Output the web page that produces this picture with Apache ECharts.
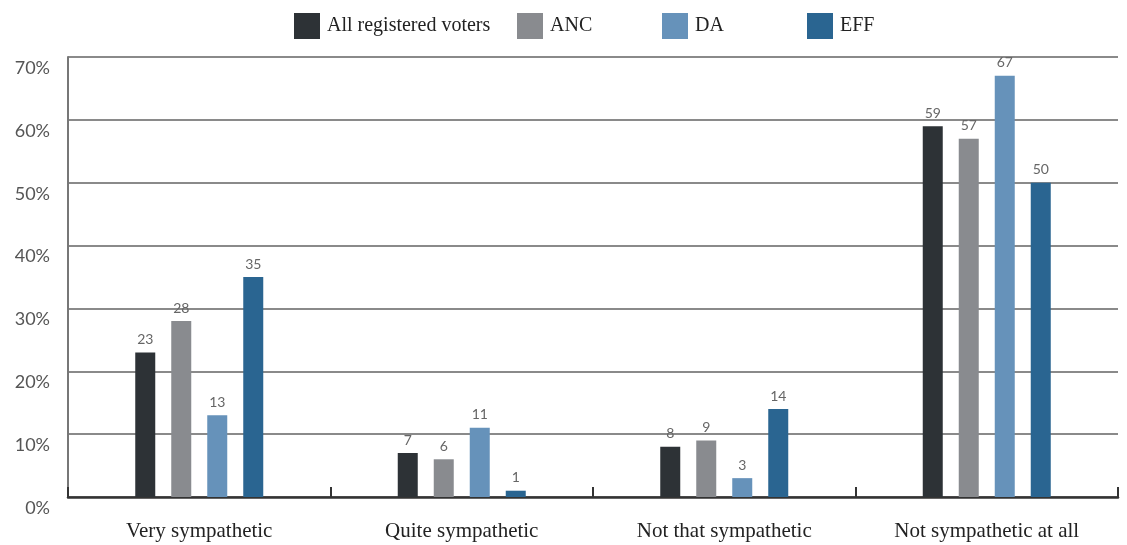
<!DOCTYPE html>
<html><head><meta charset="utf-8">
<script src="https://cdn.jsdelivr.net/npm/echarts@6/dist/echarts.min.js"></script>
<style>html,body{margin:0;padding:0;background:#fff}#c{width:1127px;height:545px}</style>
</head><body><div id="c"></div>
<script>
const categories = ['Very sympathetic','Quite sympathetic','Not that sympathetic','Not sympathetic at all'];
const seriesNames = ['All registered voters','ANC','DA','EFF'];
const allVoters = [23, 7, 8, 59];
const anc = [28, 6, 9, 57];
const da = [13, 11, 3, 67];
const eff = [35, 1, 14, 50];
const yTicks = [0,10,20,30,40,50,60,70];
const colors = ['#2d3236','#898b8f','#6692ba','#2a6591'];
const values = [allVoters, anc, da, eff];
const legendLeft = [289, 512, 657, 802];

const chart = echarts.init(document.getElementById('c'));
const serif = '"Liberation Serif", "DejaVu Serif", serif';
const sans = 'Lato, "Noto Sans", sans-serif';
chart.setOption({
  animation:false,
  color: colors,
  legend: seriesNames.map((n,i)=>({
    data:[n], left: legendLeft[i], top: 8, itemWidth:26, itemHeight:26, itemGap:0,
    icon:'rect', textStyle:{fontFamily:serif, fontSize:20, color:'#222', padding:[0,0,0,2]}
  })),
  grid:{left:68, right:9, top:57, bottom:48},
  xAxis:{
    type:'category', data:categories,
    axisLine:{lineStyle:{color:'#333', width:2.5}},
    axisTick:{show:true, inside:true, length:10, lineStyle:{color:'#333', width:2}},
    axisLabel:{fontFamily:serif, fontSize:21, color:'#222', margin:24}
  },
  yAxis:{
    type:'value', min:yTicks[0], max:yTicks[yTicks.length-1], interval:10,
    axisLine:{show:true, lineStyle:{color:'#777', width:2}},
    axisTick:{show:false},
    splitLine:{lineStyle:{color:'#8a8a8a', width:2}},
    axisLabel:{formatter:'{value}%', fontFamily:sans, fontSize:18, color:'#555', margin:18, verticalAlign:'top', padding:[2,0,0,0]}
  },
  series: seriesNames.map((n,i)=>({
    name:n, type:'bar', data:values[i], barWidth:20, barGap:'80%',
    itemStyle:{color:colors[i]},
    label:{show:true, position:'top', distance:6, fontFamily:sans, fontSize:14, color:'#666'}
  }))
});
</script></body></html>
